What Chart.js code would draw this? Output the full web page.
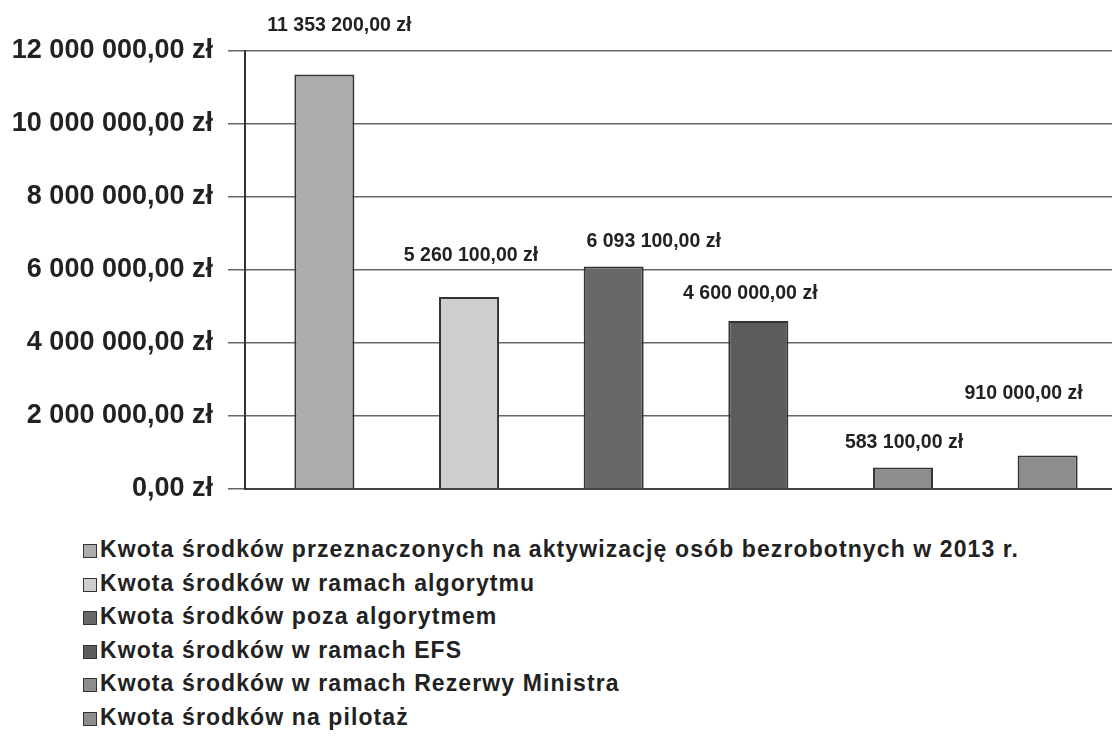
<!DOCTYPE html>
<html>
<head>
<meta charset="utf-8">
<script src="https://cdn.jsdelivr.net/npm/chart.js@4.4.0/dist/chart.umd.min.js"></script>
<style>
    html, body { margin: 0; padding: 0; background: #fff; overflow: hidden; width: 1112px; height: 755px; }
    #wrap { position: absolute; left: 0; top: 0; width: 1128px; height: 520px; }
    #legend { position: absolute; left: 83px; top: 533px; font-family: "Liberation Sans", Arial, sans-serif; font-weight: bold; font-size: 23px; letter-spacing: 1.1px; color: #222; }
    #legend div { height: 33.6px; line-height: 33.6px; white-space: nowrap; }
    #legend span.box { display: inline-block; width: 12px; height: 12px; border: 1.5px solid #333; margin-right: 3px; vertical-align: -1px; }
</style>
</head>
<body>
<div id="wrap"><canvas id="chart"></canvas></div>
<div id="legend"></div>
<script>
    const seriesNames = [
        'Kwota środków przeznaczonych na aktywizację osób bezrobotnych w 2013 r.',
        'Kwota środków w ramach algorytmu',
        'Kwota środków poza algorytmem',
        'Kwota środków w ramach EFS',
        'Kwota środków w ramach Rezerwy Ministra',
        'Kwota środków na pilotaż'
    ];
    const seriesValues = [11353200, 5260100, 6093100, 4600000, 583100, 910000];
    const yTicks = [0, 2000000, 4000000, 6000000, 8000000, 10000000, 12000000];

    const barColors = ['#adadad', '#cfcfcf', '#686868', '#5c5c5c', '#8d8d8d', '#8d8d8d'];
    // label nudges (px) relative to the bar top, as placed in the original
    const labelNudge = [[15, -49], [2, -41], [40, -25], [-8, -27], [1, -25], [-24, -62]];

    function formatZl(v) {
        const whole = Math.round(v).toString().replace(/\B(?=(\d{3})+(?!\d))/g, ' ');
        return whole + ',00 zł';
    }

    const valueLabels = {
        id: 'valueLabels',
        afterDatasetsDraw(chart) {
            const ctx = chart.ctx;
            ctx.save();
            ctx.font = 'bold 19.5px "Liberation Sans", Arial, sans-serif';
            ctx.fillStyle = '#222';
            ctx.textAlign = 'center';
            ctx.textBaseline = 'middle';
            chart.data.datasets.forEach((ds, i) => {
                const bar = chart.getDatasetMeta(i).data[0];
                const n = labelNudge[i];
                ctx.fillText(formatZl(ds.data[0]), bar.x + n[0], bar.y + n[1]);
            });
            ctx.restore();
        }
    };

    const ctx = document.getElementById('chart').getContext('2d');
    const chart = new Chart(ctx, {
        type: 'bar',
        data: {
            labels: [''],
            datasets: seriesNames.map((name, i) => ({
                label: name,
                data: [seriesValues[i]],
                backgroundColor: barColors[i],
                borderColor: '#333',
                borderWidth: 2,
                categoryPercentage: 0.984,
                barPercentage: 0.415
            }))
        },
        options: {
            responsive: true,
            maintainAspectRatio: false,
            animation: false,
            layout: { padding: { top: 51, bottom: 21, right: 1, left: 0 } },
            plugins: {
                legend: { display: false },
                tooltip: { enabled: false }
            },
            scales: {
                x: {
                    ticks: { display: false },
                    grid: { display: false },
                    border: { display: true, color: '#444', width: 2 },
                    afterFit(scale) { scale.height = 0; }
                },
                y: {
                    min: 0,
                    max: 12000000,
                    afterBuildTicks(scale) { scale.ticks = yTicks.map(v => ({ value: v })); },
                    ticks: {
                        padding: 15,
                        color: '#222',
                        font: { family: '"Liberation Sans", Arial, sans-serif', size: 27, weight: 'bold' },
                        callback: v => formatZl(v)
                    },
                    grid: { color: '#666', lineWidth: 1.5, tickLength: 17 },
                    border: { display: true, color: '#333', width: 2 },
                    afterFit(scale) { scale.width = 245; }
                }
            }
        },
        plugins: [valueLabels]
    });

    // legend as html list, one entry per row
    const legendEl = document.getElementById('legend');
    Chart.defaults.plugins.legend.labels.generateLabels(chart).forEach(item => {
        const row = document.createElement('div');
        const box = document.createElement('span');
        box.className = 'box';
        box.style.background = item.fillStyle;
        row.appendChild(box);
        row.appendChild(document.createTextNode(item.text));
        legendEl.appendChild(row);
    });
</script>
</body>
</html>
